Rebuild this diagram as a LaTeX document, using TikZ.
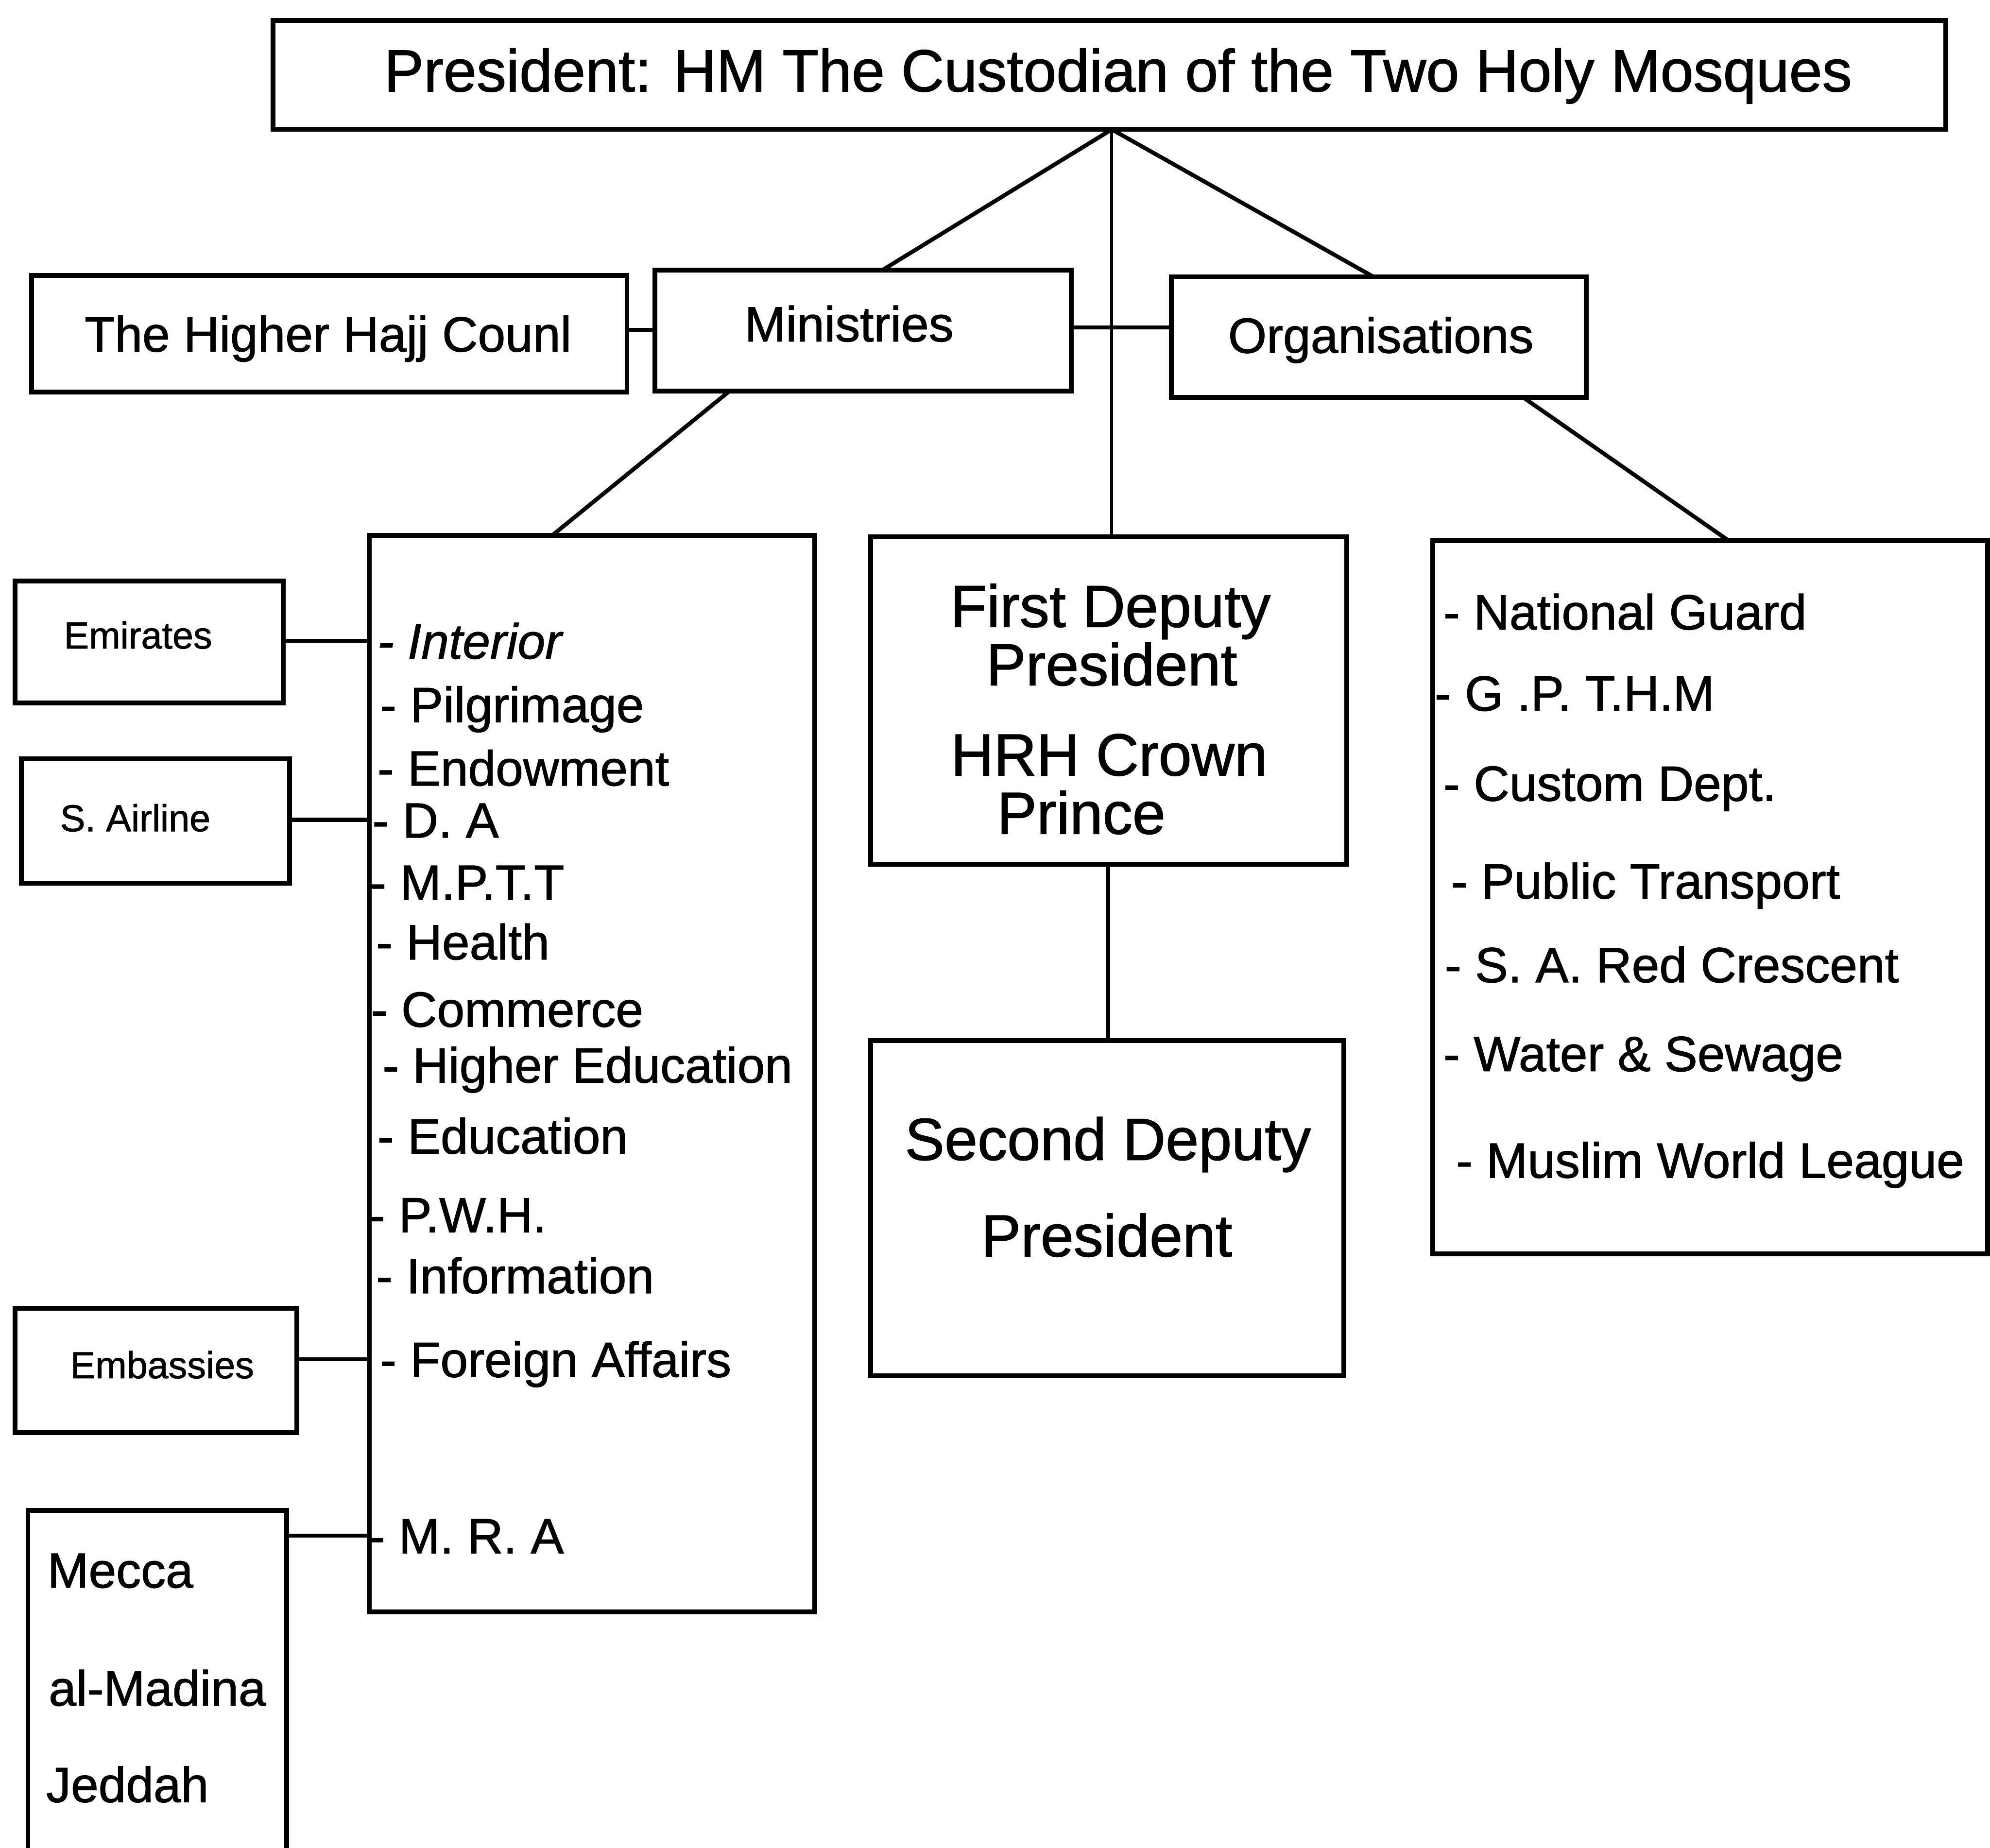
\documentclass[tikz,border=0pt]{standalone}
\usepackage{fontspec}
\setmainfont{Liberation Sans}[BoldFont=Liberation Sans, BoldFeatures={FakeBold=1.2}, BoldItalicFont=Liberation Sans Italic, BoldItalicFeatures={FakeBold=1.2}]
\tikzset{
  box/.style={draw, line width=1.9pt, inner sep=0pt, outer sep=0pt},
  conn/.style={line width=1.6pt},
  thinconn/.style={line width=1.1pt},
  txt/.style={inner sep=0pt, anchor=base west, font=\fontsize{19.5}{22}\selectfont\bfseries},
  txtc/.style={inner sep=0pt, anchor=base, font=\fontsize{19.5}{22}\selectfont\bfseries},
  big/.style={inner sep=0pt, anchor=base, font=\fontsize{23.4}{26}\selectfont\bfseries},
  small/.style={inner sep=0pt, anchor=base west, font=\fontsize{14.8}{17}\selectfont\bfseries},
}
\begin{document}
\begin{tikzpicture}[x=0.5pt,y=-0.5pt]
\useasboundingbox (0,0) rectangle (1568,1456);
\fill[white] (0,0) rectangle (1568,1456);
\clip (0,0) rectangle (1568,1456);

% boxes
\node[box, minimum width=659pt, minimum height=43pt] (pres) at (874,59) {};
\node[box, minimum width=234.5pt, minimum height=46pt] (hajj) at (259.5,263) {};
\node[box, minimum width=164pt, minimum height=47.5pt] (mins) at (680,260.5) {};
\node[box, minimum width=163.5pt, minimum height=47.5pt] (orgs) at (1086.5,265.5) {};
\node[box, minimum width=175.5pt, minimum height=424pt] (minlist) at (466.5,846) {};
\node[box, minimum width=187.5pt, minimum height=129pt] (dep1) at (873.5,552) {};
\node[box, minimum width=186.5pt, minimum height=132pt] (dep2) at (872.5,952) {};
\node[box, minimum width=218.5pt, minimum height=281pt] (orglist) at (1347.5,707) {};
\node[box, minimum width=105.5pt, minimum height=48pt] (emir) at (117.5,506) {};
\node[box, minimum width=105.5pt, minimum height=49pt] (air) at (122.5,647) {};
\node[box, minimum width=111pt, minimum height=49pt] (emb) at (123,1080) {};
\node[box, minimum width=102pt, minimum height=160pt] (mecca) at (124,1350) {};

% connectors
\coordinate (top) at (876,102);
\draw[conn] (top) -- (mins.north -| 695,0);
\draw[conn] (top) -- (orgs.north -| 1082,0);
\draw[thinconn] (top) -- (dep1.north -| 876,0);
\draw[conn] (mins.south -| 575,0) -- (minlist.north -| 435,0);
\draw[conn] (orgs.south -| 1200,0) -- (orglist.north -| 1362,0);
\draw[conn] (hajj.east |- 0,260) -- (mins.west |- 0,260);
\draw[conn] (mins.east |- 0,258) -- (orgs.west |- 0,258);
\draw[conn] (dep1.south -| 873,0) -- (dep2.north -| 873,0);
\draw[conn] (emir.east |- 0,505) -- (minlist.west |- 0,505);
\draw[conn] (air.east |- 0,646) -- (minlist.west |- 0,646);
\draw[conn] (emb.east |- 0,1071) -- (minlist.west |- 0,1071);
\draw[conn] (mecca.north east |- 0,1210) -- (minlist.west |- 0,1210);

% texts in top boxes
\node[big] (tpres) at (881,72) {President: HM The Custodian of the Two Holy Mosques};
\node[txtc] (thajj) at (258.5,277) {The Higher Hajj Counl};
\node[txtc] (tmins) at (669,269) {Ministries};
\node[txtc] (torgs) at (1088,278) {Organisations};

% small boxes
\node[small] (temir) at (50,511) {Emirates};
\node[small] (tair) at (47,655) {S. Airline};
\node[small] (temb) at (55,1086) {Embassies};

% Mecca box
\node[txt] (m1) at (37,1251) {Mecca};
\node[txt] (m2) at (38,1344) {al-Madina};
\node[txt] (m3) at (36,1420) {Jeddah};

% ministries list
\node[txt] (l1) at (297,519) {\itshape - Interior};
\node[txt] (l2) at (299,569) {- Pilgrimage};
\node[txt] (l3) at (297,619) {- Endowment};
\node[txt] (l4) at (293,660) {- D. A};
\node[txt] (l5) at (291,709) {- M.P.T.T};
\node[txt] (l6) at (296,756) {- Health};
\node[txt] (l7) at (292,809) {- Commerce};
\node[txt] (l8) at (301,853) {- Higher Education};
\node[txt] (l9) at (297,909) {- Education};
\node[txt] (l10) at (290,971) {- P.W.H.};
\node[txt] (l11) at (296,1019) {- Information};
\node[txt] (l12) at (299,1085) {- Foreign Affairs};
\node[txt] (l13) at (290,1224) {- M. R. A};

% deputies
\node[big] (d1a) at (875,494) {First Deputy};
\node[big] (d1b) at (876,540) {President};
\node[big] (d1c) at (874,611) {HRH Crown};
\node[big] (d1d) at (852,657) {Prince};
\node[big] (d2a) at (873,914) {Second Deputy};
\node[big] (d2b) at (872,990) {President};

% organisations list
\node[txt] (o1) at (1137,496) {- National Guard};
\node[txt] (o2) at (1130,560) {- G .P. T.H.M};
\node[txt] (o3) at (1137,631) {- Custom Dept.};
\node[txt] (o4) at (1143,708) {- Public Transport};
\node[txt] (o5) at (1138,774) {- S. A. Red Crescent};
\node[txt] (o6) at (1137,844) {- Water \& Sewage};
\node[txt] (o7) at (1147,928) {- Muslim World League};
\end{tikzpicture}
\end{document}
